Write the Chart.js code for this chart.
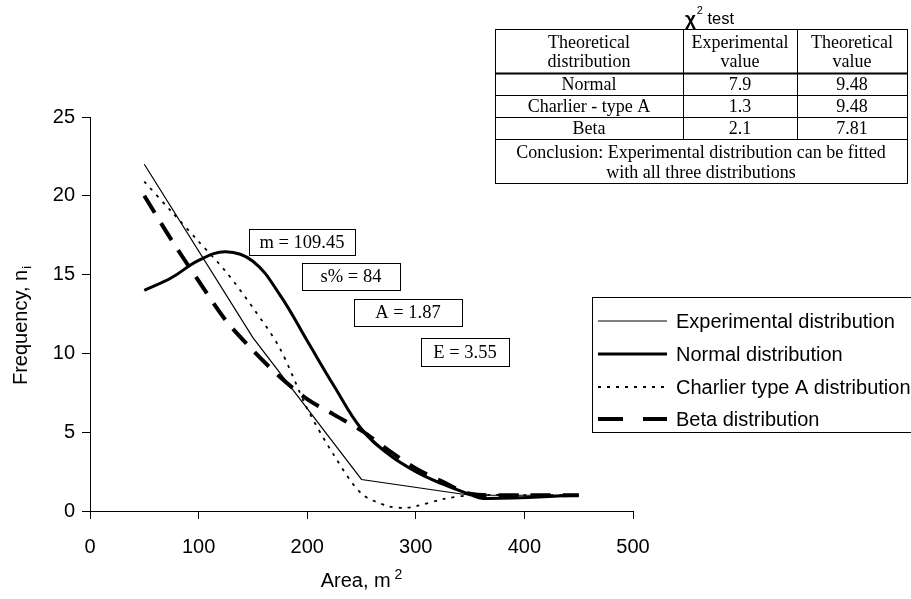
<!DOCTYPE html>
<html>
<head>
<meta charset="utf-8">
<script src="https://cdn.jsdelivr.net/npm/chart.js@4/dist/chart.umd.min.js"></script>
<style>
html,body{margin:0;padding:0;background:#fff;}
canvas{display:block;}
</style>
</head>
<body>
<canvas id="c" width="911" height="599"></canvas>
<script>
// ---- data ----
const expX = [50, 150, 250, 350, 450];
const expY = [22, 11, 2, 1, 1];
const normX = [50, 75, 100, 125, 150, 175, 200, 225, 250, 275, 300, 325, 350, 362, 450];
const normY = [14, 14.8, 15.9, 16.45, 15.85, 13.7, 10.8, 7.9, 5.2, 3.6, 2.5, 1.7, 1.05, 0.8, 1.0];
const charX = [50, 75, 100, 125, 150, 175, 200, 225, 250, 275, 290, 300, 325, 350, 400, 450];
const charY = [20.9, 19.0, 17.1, 15.2, 12.9, 10.3, 6.5, 3.5, 1.1, 0.3, 0.2, 0.3, 0.75, 1.0, 1.0, 1.0];
const betaX = [50, 75, 100, 125, 150, 175, 200, 225, 250, 275, 300, 325, 350, 400, 450];
const betaY = [20, 17.2, 14.6, 12.1, 10.2, 8.5, 7.1, 6.1, 5.1, 3.85, 2.7, 1.85, 1.1, 1.0, 1.0];
const seriesNames = ['Experimental distribution', 'Normal distribution', 'Charlier type A distribution', 'Beta distribution'];
const xTicks = [0, 100, 200, 300, 400, 500];
const yTicks = [0, 5, 10, 15, 20, 25];
const statLabels = ['m = 109.45', 's% = 84', 'A = 1.87', 'E = 3.55'];
const tableTitle = ['\u03C7', '2', ' test'];
const tableHeader = [['Theoretical', 'distribution'], ['Experimental', 'value'], ['Theoretical', 'value']];
const tableRows = [['Normal', '7.9', '9.48'], ['Charlier - type A', '1.3', '9.48'], ['Beta', '2.1', '7.81']];
const tableConclusion = ['Conclusion: Experimental distribution can be fitted', 'with all three distributions'];

function pts(xs, ys) { return xs.map((x, i) => ({x: x, y: ys[i]})); }

const SANS = '"Liberation Sans", Arial, sans-serif';
const SERIF = '"Liberation Serif", "Times New Roman", serif';

const styles = [
  {borderWidth: 1.2, borderDash: [], tension: 0},
  {borderWidth: 3, borderDash: [], tension: 0.4},
  {borderWidth: 1.8, borderDash: [3, 6], tension: 0.3},
  {borderWidth: 4, borderDash: [20, 12], tension: 0.3}
];
const allData = [pts(expX, expY), pts(normX, normY), pts(charX, charY), pts(betaX, betaY)];

const extras = {
  id: 'extras',
  afterDraw(chart) {
    const ctx = chart.ctx;
    const ca = chart.chartArea;
    ctx.save();
    ctx.fillStyle = '#000';
    ctx.strokeStyle = '#000';
    ctx.setLineDash([]);

    // axis titles
    ctx.font = '20px ' + SANS;
    ctx.textBaseline = 'alphabetic';
    const xt = 'Area, m';
    const xw = ctx.measureText(xt).width;
    ctx.font = '14px ' + SANS;
    const sw = ctx.measureText(' 2').width;
    ctx.font = '20px ' + SANS;
    const xc = (ca.left + ca.right) / 2;
    const xs = xc - (xw + sw) / 2;
    ctx.textAlign = 'left';
    ctx.fillText(xt, xs, 587);
    ctx.font = '14px ' + SANS;
    ctx.fillText(' 2', xs + xw, 579);
    ctx.save();
    ctx.translate(27, 326);
    ctx.rotate(-Math.PI / 2);
    ctx.font = '20px ' + SANS;
    const yt = 'Frequency, n';
    const yw = ctx.measureText(yt).width;
    ctx.font = '13px ' + SANS;
    const iw = ctx.measureText('i').width;
    ctx.font = '20px ' + SANS;
    ctx.fillText(yt, -(yw + iw) / 2, 0);
    ctx.font = '13px ' + SANS;
    ctx.fillText('i', -(yw + iw) / 2 + yw + 1, 4);
    ctx.restore();

    // stat boxes
    const boxes = [[249, 229, 106, 26], [302, 263, 98, 27], [354, 299, 108, 27], [421, 338, 88, 28]];
    ctx.font = '18.5px ' + SERIF;
    ctx.textAlign = 'center';
    ctx.textBaseline = 'middle';
    ctx.lineWidth = 1;
    boxes.forEach((b, i) => {
      ctx.fillStyle = '#fff';
      ctx.fillRect(b[0], b[1], b[2], b[3]);
      ctx.strokeRect(b[0] + 0.5, b[1] + 0.5, b[2], b[3]);
      ctx.fillStyle = '#000';
      ctx.fillText(statLabels[i], b[0] + b[2] / 2, b[1] + b[3] / 2 + 1);
    });

    // legend
    const lx = 592, ly = 297, lh = 135;
    ctx.fillStyle = '#fff';
    ctx.fillRect(lx, ly, 330, lh);
    ctx.strokeStyle = '#000';
    ctx.lineWidth = 1;
    ctx.strokeRect(lx + 0.5, ly + 0.5, 330, lh);
    const rowsY = [321, 354, 387, 419];
    ctx.font = '20px ' + SANS;
    ctx.textAlign = 'left';
    ctx.textBaseline = 'middle';
    seriesNames.forEach((n, i) => {
      const s = styles[i];
      ctx.beginPath();
      ctx.lineWidth = s.borderWidth;
      ctx.setLineDash(s.borderDash);
      if (i === 3) ctx.setLineDash([25, 20]);
      ctx.moveTo(598, rowsY[i]);
      ctx.lineTo(667, rowsY[i]);
      ctx.stroke();
      ctx.setLineDash([]);
      ctx.fillStyle = '#000';
      ctx.fillText(n, 676, rowsY[i] + 1);
    });

    // table title
    ctx.textBaseline = 'alphabetic';
    ctx.font = 'bold 19px ' + SANS;
    const chiW = ctx.measureText(tableTitle[0]).width;
    ctx.font = '11px ' + SANS;
    const twoW = ctx.measureText(tableTitle[1]).width;
    ctx.font = '16.5px ' + SANS;
    const testW = ctx.measureText(tableTitle[2]).width;
    let tx = 709 - (chiW + twoW + testW) / 2;
    ctx.font = 'bold 19px ' + SANS;
    ctx.fillText(tableTitle[0], tx, 25);
    ctx.font = '11px ' + SANS;
    ctx.fillText(tableTitle[1], tx + chiW + 1, 14);
    ctx.font = '16.5px ' + SANS;
    ctx.fillText(tableTitle[2], tx + chiW + twoW + 1, 24);

    // table
    const tL = 495, tR = 907, cols = [495, 683, 797, 907];
    const rLines = [29, 73, 95, 117, 139, 183];
    ctx.lineWidth = 1;
    ctx.strokeStyle = '#000';
    ctx.strokeRect(tL + 0.5, rLines[0] + 0.5, tR - tL, rLines[5] - rLines[0]);
    ctx.beginPath();
    for (let r = 1; r < 5; r++) {
      ctx.moveTo(tL, rLines[r] + 0.5);
      ctx.lineTo(tR, rLines[r] + 0.5);
    }
    for (let c = 1; c < 3; c++) {
      ctx.moveTo(cols[c] + 0.5, rLines[0]);
      ctx.lineTo(cols[c] + 0.5, rLines[4]);
    }
    ctx.stroke();
    ctx.beginPath();
    ctx.lineWidth = 2;
    ctx.moveTo(tL, rLines[1] + 0.5);
    ctx.lineTo(tR, rLines[1] + 0.5);
    ctx.stroke();
    ctx.font = '18px ' + SERIF;
    ctx.textAlign = 'center';
    ctx.textBaseline = 'middle';
    ctx.fillStyle = '#000';
    for (let c = 0; c < 3; c++) {
      const cx = (cols[c] + cols[c + 1]) / 2;
      ctx.fillText(tableHeader[c][0], cx, 43);
      ctx.fillText(tableHeader[c][1], cx, 62);
      for (let r = 0; r < 3; r++) {
        ctx.fillText(tableRows[r][c], cx, (rLines[r + 1] + rLines[r + 2]) / 2 + 1);
      }
    }
    ctx.fillText(tableConclusion[0], (tL + tR) / 2, 153);
    ctx.fillText(tableConclusion[1], (tL + tR) / 2, 173);
    ctx.restore();
  }
};

new Chart(document.getElementById('c'), {
  type: 'line',
  data: {
    datasets: seriesNames.map((n, i) => ({
      label: n,
      data: allData[i],
      borderColor: '#000',
      backgroundColor: '#000',
      borderWidth: styles[i].borderWidth,
      borderDash: styles[i].borderDash,
      tension: styles[i].tension,
      pointRadius: 0,
      fill: false
    }))
  },
  options: {
    responsive: false,
    animation: false,
    layout: {padding: {left: 0, top: 117, right: 278, bottom: 0}},
    plugins: {legend: {display: false}, tooltip: {enabled: false}},
    scales: {
      x: {
        type: 'linear', min: 0, max: 500,
        afterFit(s) { s.height = 88; },
        afterBuildTicks(s) { s.ticks = xTicks.map(v => ({value: v})); },
        grid: {display: true, drawOnChartArea: false, drawTicks: true, tickLength: 8, color: '#000'},
        border: {display: true, color: '#000', width: 1},
        ticks: {color: '#000', font: {family: SANS, size: 20}, padding: 16, maxRotation: 0}
      },
      y: {
        type: 'linear', min: 0, max: 25,
        afterFit(s) { s.width = 90; },
        afterBuildTicks(s) { s.ticks = yTicks.map(v => ({value: v})); },
        grid: {display: true, drawOnChartArea: false, drawTicks: true, tickLength: 8, color: '#000'},
        border: {display: true, color: '#000', width: 1},
        ticks: {color: '#000', font: {family: SANS, size: 20}, padding: 7}
      }
    }
  },
  plugins: [extras]
});
</script>
</body>
</html>
